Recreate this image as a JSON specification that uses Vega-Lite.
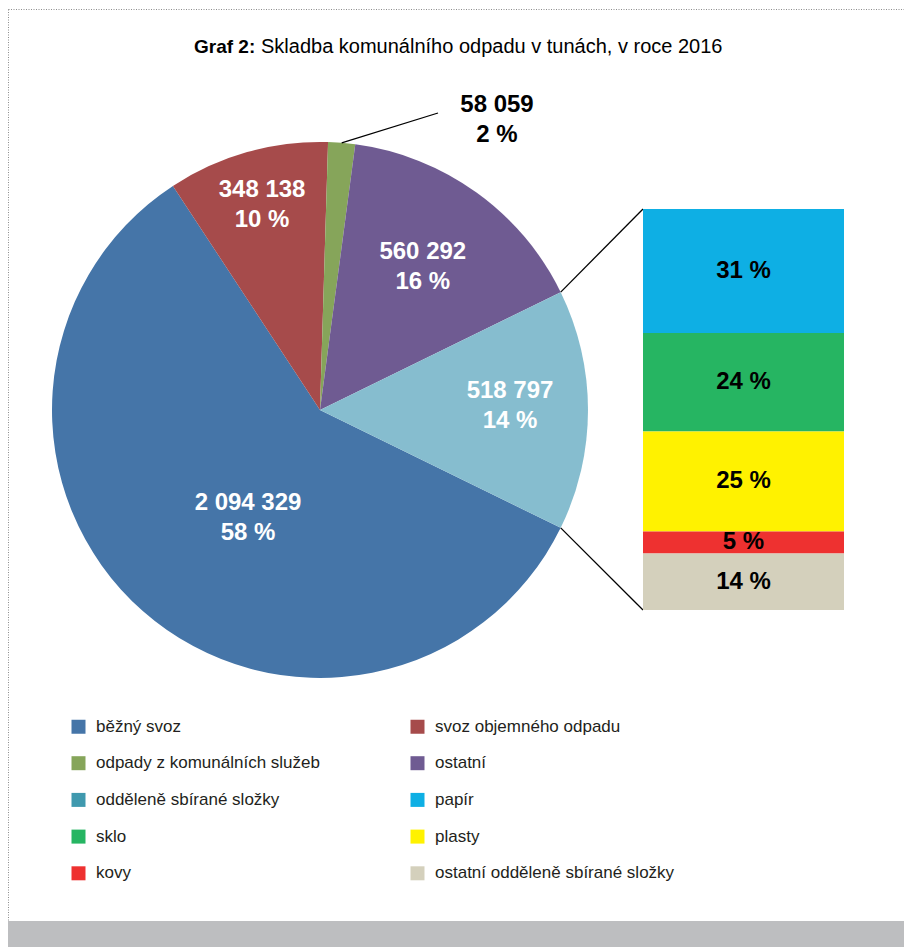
{
  "$schema": "https://vega.github.io/schema/vega-lite/v6.json",
  "width": 900,
  "height": 938,
  "padding": {"left": 8, "top": 9, "right": 0, "bottom": 0},
  "autosize": {"type": "none"},
  "background": "white",
  "params": [
    {"name": "cx", "value": 312},
    {"name": "cy", "value": 401},
    {"name": "R", "value": 268}
  ],
  "title": {
    "text": "Graf 2:",
    "anchor": "start",
    "frame": "group",
    "align": "left",
    "dx": 186,
    "offset": -48,
    "font": "Liberation Sans",
    "fontSize": 19,
    "fontWeight": "bold",
    "color": "#000000"
  },
  "datasets": {
    "pie": [
      {"cat": "běžný svoz", "t": 2094329, "pct": 58},
      {"cat": "svoz objemného odpadu", "t": 348138, "pct": 10},
      {"cat": "odpady z komunálních služeb", "t": 58059, "pct": 2},
      {"cat": "ostatní", "t": 560292, "pct": 16},
      {"cat": "odděleně sbírané složky", "t": 518797, "pct": 14}
    ],
    "bar": [
      {"cat": "papír", "pct": 30.9, "label": 31},
      {"cat": "sklo", "pct": 24.6, "label": 24},
      {"cat": "plasty", "pct": 24.9, "label": 25},
      {"cat": "kovy", "pct": 5.5, "label": 5},
      {"cat": "ostatní odděleně sbírané složky", "pct": 14.1, "label": 14}
    ],
    "heading": [
      {"text": "Skladba komunálního odpadu v tunách, v roce 2016"}
    ]
  },
  "layer": [
    {
      "data": {"values": [{}]},
      "mark": {"type": "rect", "color": "#bdbec0", "x": 0, "x2": {"expr": "width"}, "y": {"expr": "height - 26"}, "y2": {"expr": "height"}},
      "encoding": {}
    },
    {
      "data": {"name": "heading"},
      "mark": {"type": "text", "x": 253, "y": 43.5, "align": "left", "baseline": "alphabetic", "font": "Liberation Sans", "fontSize": 20, "color": "#000000"},
      "encoding": {"text": {"field": "text", "type": "nominal"}}
    },
    {
      "data": {"name": "pie"},
      "transform": [
        {"calculate": "indexof(['svoz objemného odpadu','odpady z komunálních služeb','ostatní','odděleně sbírané složky','běžný svoz'], datum.cat)", "as": "o"}
      ],
      "mark": {"type": "arc", "x": {"expr": "cx"}, "y": {"expr": "cy"}, "outerRadius": {"expr": "R"}},
      "encoding": {
        "theta": {"field": "t", "type": "quantitative", "stack": true, "scale": {"range": [-0.581, 5.7022]}},
        "order": {"field": "o", "type": "quantitative"},
        "color": {
          "condition": {"test": "datum.cat === 'odděleně sbírané složky'", "value": "#86bdcf"},
          "field": "cat",
          "type": "nominal",
          "scale": {
            "domain": ["běžný svoz", "svoz objemného odpadu", "odpady z komunálních služeb", "ostatní", "odděleně sbírané složky", "papír", "sklo", "plasty", "kovy", "ostatní odděleně sbírané složky"],
            "range": ["#4575a8", "#a64b4b", "#86a55a", "#6f5b92", "#3f99ae", "#0eafe4", "#26b562", "#fff200", "#ee3130", "#d4d0bc"]
          },
          "legend": {
            "orient": "none", "legendX": 62, "legendY": 709, "direction": "horizontal", "columns": 2, "columnPadding": 89, "rowPadding": 18.7,
            "symbolType": "square", "symbolSize": 196, "symbolStrokeWidth": 0, "symbolOpacity": 1,
            "labelFont": "Liberation Sans", "labelFontSize": 17, "labelColor": "#231f20", "labelOffset": 9,
            "labelLimit": 0, "title": null, "padding": 0
          }
        }
      }
    },
    {
      "data": {"name": "pie"},
      "transform": [
        {"calculate": "indexof(['svoz objemného odpadu','odpady z komunálních služeb','ostatní','odděleně sbírané složky','běžný svoz'], datum.cat)", "as": "o"},
        {"calculate": "datum.cat === 'odpady z komunálních služeb' ? '' : format(datum.t, ',') + '\\n' + datum.pct + ' %'", "as": "lbl"}
      ],
      "mark": {
        "type": "text", "x": {"expr": "cx"}, "y": {"expr": "cy"},
        "radius": {"expr": "datum.cat === 'běžný svoz' ? 130 : datum.cat === 'svoz objemného odpadu' ? 213 : datum.cat === 'ostatní' ? 176 : 190"},
        "dx": {"expr": "datum.cat === 'běžný svoz' ? 14 : 0"},
        "dy": {"expr": "datum.cat === 'běžný svoz' ? -5 : datum.cat === 'odděleně sbírané složky' ? -19 : -15"},
        "font": "Liberation Sans", "fontSize": 24, "fontWeight": "bold", "color": "#ffffff",
        "lineBreak": "\n", "lineHeight": 30, "align": "center", "baseline": "middle"
      },
      "encoding": {
        "theta": {"field": "t", "type": "quantitative", "stack": true, "scale": {"range": [-0.581, 5.7022]}},
        "order": {"field": "o", "type": "quantitative"},
        "text": {"field": "lbl", "type": "nominal"}
      }
    },
    {
      "data": {"name": "pie"},
      "transform": [
        {"filter": "datum.cat === 'odpady z komunálních služeb'"},
        {"calculate": "format(datum.t, ',') + '\\n' + datum.pct + ' %'", "as": "lbl"}
      ],
      "mark": {
        "type": "text", "x": {"expr": "cx + 177"}, "y": {"expr": "cy - 305"},
        "font": "Liberation Sans", "fontSize": 24, "fontWeight": "bold", "color": "#000000",
        "lineBreak": "\n", "lineHeight": 30, "align": "center", "baseline": "middle"
      },
      "encoding": {"text": {"field": "lbl", "type": "nominal"}}
    },
    {
      "data": {"name": "pie"},
      "transform": [
        {"calculate": "indexof(['svoz objemného odpadu','odpady z komunálních služeb','ostatní','odděleně sbírané složky','běžný svoz'], datum.cat)", "as": "o"},
        {"stack": "t", "groupby": [], "sort": [{"field": "o"}], "as": ["s0", "s1"]},
        {"joinaggregate": [{"op": "sum", "field": "t", "as": "total"}]},
        {"filter": "datum.cat === 'odpady z komunálních služeb'"},
        {"calculate": "-0.581 + 2 * PI * (datum.s0 + datum.s1) / 2 / datum.total", "as": "a"},
        {"calculate": "cx + R * sin(datum.a)", "as": "px"},
        {"calculate": "cy - R * cos(datum.a)", "as": "py"},
        {"calculate": "cx + 118", "as": "qx"},
        {"calculate": "cy - 297", "as": "qy"}
      ],
      "mark": {"type": "rule", "color": "#000000", "strokeWidth": 1.3},
      "encoding": {
        "x": {"field": "px", "type": "quantitative", "scale": null},
        "y": {"field": "py", "type": "quantitative", "scale": null},
        "x2": {"field": "qx"},
        "y2": {"field": "qy"}
      }
    },
    {
      "data": {"values": [{}]},
      "mark": {"type": "rule", "color": "#000000", "strokeWidth": 1.3, "x": {"expr": "cx + 118"}, "x2": {"expr": "cx + 130"}, "y": {"expr": "cy - 297"}, "y2": {"expr": "cy - 297"}},
      "encoding": {}
    },
    {
      "data": {"name": "pie"},
      "transform": [
        {"calculate": "indexof(['svoz objemného odpadu','odpady z komunálních služeb','ostatní','odděleně sbírané složky','běžný svoz'], datum.cat)", "as": "o"},
        {"stack": "t", "groupby": [], "sort": [{"field": "o"}], "as": ["s0", "s1"]},
        {"joinaggregate": [{"op": "sum", "field": "t", "as": "total"}]},
        {"filter": "datum.cat === 'odděleně sbírané složky'"},
        {"fold": ["s0", "s1"], "as": ["k", "v"]},
        {"calculate": "-0.581 + 2 * PI * datum.v / datum.total", "as": "a"},
        {"calculate": "cx + R * sin(datum.a)", "as": "px"},
        {"calculate": "cy - R * cos(datum.a)", "as": "py"},
        {"calculate": "635", "as": "tx"},
        {"calculate": "datum.k === 's0' ? 200 : 601", "as": "ty"}
      ],
      "mark": {"type": "rule", "color": "#000000", "strokeWidth": 1.3},
      "encoding": {
        "x": {"field": "px", "type": "quantitative", "scale": null},
        "y": {"field": "py", "type": "quantitative", "scale": null},
        "x2": {"field": "tx"},
        "y2": {"field": "ty"}
      }
    },
    {
      "data": {"name": "bar"},
      "transform": [
        {"calculate": "indexof(['ostatní odděleně sbírané složky','kovy','plasty','sklo','papír'], datum.cat)", "as": "o"},
        {"stack": "pct", "groupby": [], "sort": [{"field": "o"}], "as": ["y0", "y1"]}
      ],
      "mark": {"type": "bar"},
      "encoding": {
        "x": {"datum": "odděleně sbírané složky", "type": "nominal", "axis": null, "scale": {"range": [635, 836], "paddingInner": 0, "paddingOuter": 0}},
        "y": {"field": "y0", "type": "quantitative", "axis": null, "scale": {"domain": [0, 100], "range": [601, 200], "nice": false, "zero": false}},
        "y2": {"field": "y1"},
        "color": {
          "field": "cat",
          "type": "nominal",
          "scale": {
            "domain": ["běžný svoz", "svoz objemného odpadu", "odpady z komunálních služeb", "ostatní", "odděleně sbírané složky", "papír", "sklo", "plasty", "kovy", "ostatní odděleně sbírané složky"],
            "range": ["#4575a8", "#a64b4b", "#86a55a", "#6f5b92", "#3f99ae", "#0eafe4", "#26b562", "#fff200", "#ee3130", "#d4d0bc"]
          },
          "legend": {
            "orient": "none", "legendX": 62, "legendY": 709, "direction": "horizontal", "columns": 2, "columnPadding": 89, "rowPadding": 18.7,
            "symbolType": "square", "symbolSize": 196, "symbolStrokeWidth": 0, "symbolOpacity": 1,
            "labelFont": "Liberation Sans", "labelFontSize": 17, "labelColor": "#231f20", "labelOffset": 9,
            "labelLimit": 0, "title": null, "padding": 0
          }
        }
      }
    },
    {
      "data": {"name": "bar"},
      "transform": [
        {"calculate": "indexof(['ostatní odděleně sbírané složky','kovy','plasty','sklo','papír'], datum.cat)", "as": "o"},
        {"stack": "pct", "groupby": [], "sort": [{"field": "o"}], "as": ["y0", "y1"]},
        {"calculate": "(datum.y0 + datum.y1) / 2", "as": "ym"},
        {"calculate": "datum.label + ' %'", "as": "lbl"}
      ],
      "mark": {"type": "text", "font": "Liberation Sans", "fontSize": 24, "fontWeight": "bold", "color": "#000000", "align": "center", "baseline": "middle"},
      "encoding": {
        "x": {"datum": "odděleně sbírané složky", "type": "nominal", "axis": null, "scale": {"range": [635, 836], "paddingInner": 0, "paddingOuter": 0}},
        "y": {"field": "ym", "type": "quantitative", "axis": null, "scale": {"domain": [0, 100], "range": [601, 200], "nice": false, "zero": false}},
        "text": {"field": "lbl", "type": "nominal"}
      }
    }
  ],
  "resolve": {"scale": {"x": "independent", "y": "independent"}},
  "config": {
    "locale": {"number": {"decimal": ",", "thousands": " ", "grouping": [3], "currency": ["", " Kč"]}},
    "view": {"stroke": "#8c8c8c", "strokeDash": [1, 1.5], "strokeWidth": 1}
  }
}
